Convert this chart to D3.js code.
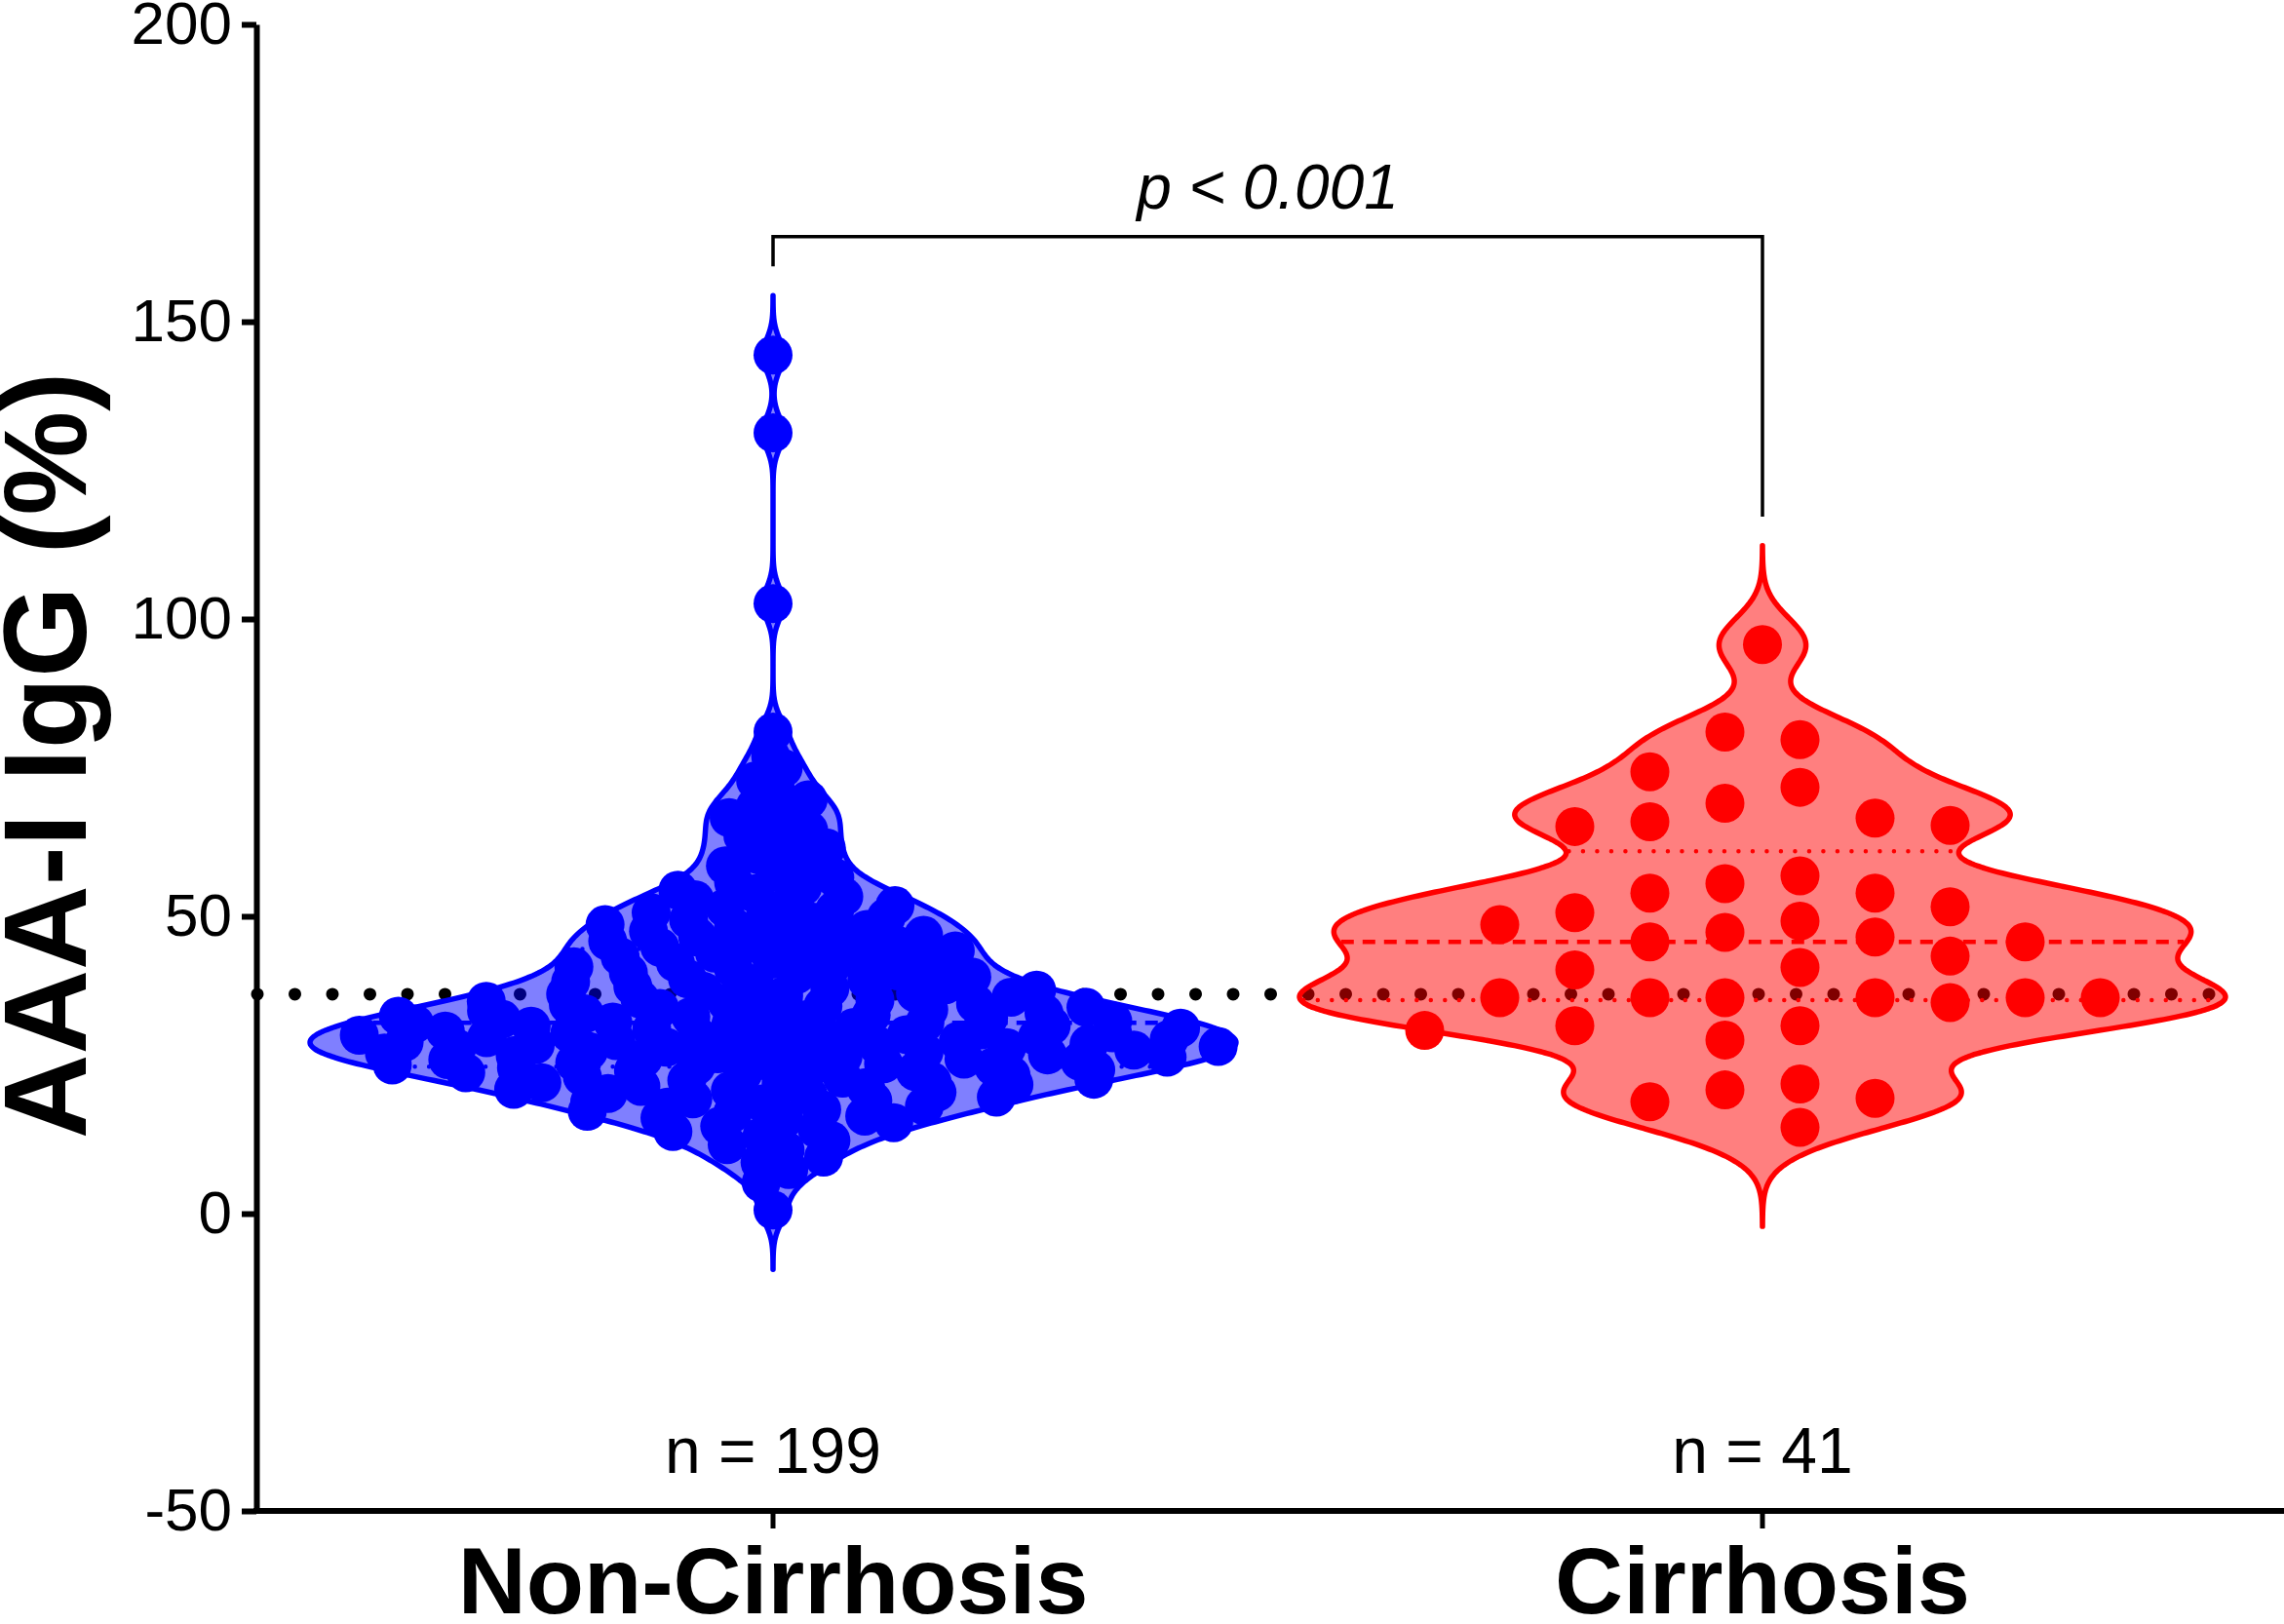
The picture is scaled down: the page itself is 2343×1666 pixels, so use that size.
<!DOCTYPE html>
<html>
<head>
<meta charset="utf-8">
<title>AAA-I IgG violin plot</title>
<script src="https://cdn.jsdelivr.net/npm/d3@7"></script>
<style>
  body { margin: 0; background: #fff; }
  svg { display: block; font-family: 'Liberation Sans', Arial, sans-serif; }
</style>
</head>
<body>
<svg id="chart" width="2343" height="1666"></svg>
<script>
// ---- data ----
const groups = ['Non-Cirrhosis', 'Cirrhosis'];
const groupN = ['n = 199', 'n = 41'];
const yTicks = [-50, 0, 50, 100, 150, 200];
const yLabel = 'AAA-I IgG (%)';
const cutoff = 36.9;
const pLabel = 'p < 0.001';
const bracketTop = 164.3;
const bracketLegs = [159.3, 117.2];
const bandwidth = [2.7, 4.5];

const nonCirrhosis = [
  0.6, 5.2, 7.4, 8.6, 9.5, 10.7, 11.6, 12.3, 13.0, 13.8,
  14.2, 14.7, 15.3, 15.9, 16.1, 16.4, 16.9, 17.2, 17.5, 17.9,
  18.1, 18.5, 18.8, 19.0, 19.3, 19.6, 19.9, 20.2, 20.4, 20.7,
  20.9, 21.2, 21.4, 21.7, 21.9, 22.0, 22.2, 22.4, 22.6, 22.8,
  23.0, 23.3, 23.5, 23.7, 23.9, 24.0, 24.2, 24.3, 24.5, 24.7,
  24.8, 25.0, 25.2, 25.4, 25.6, 25.7, 25.9, 26.0, 26.1, 26.3,
  26.4, 26.6, 26.7, 26.9, 27.0, 27.2, 27.3, 27.5, 27.6, 27.8,
  27.9, 28.0, 28.1, 28.3, 28.4, 28.5, 28.7, 28.8, 29.0, 29.1,
  29.3, 29.4, 29.6, 29.7, 29.9, 30.0, 30.1, 30.3, 30.4, 30.6,
  30.7, 30.9, 31.0, 31.2, 31.3, 31.5, 31.6, 31.8, 31.9, 32.1,
  32.2, 32.4, 32.6, 32.7, 32.9, 33.1, 33.2, 33.4, 33.6, 33.7,
  33.9, 34.1, 34.3, 34.5, 34.7, 34.9, 35.1, 35.3, 35.5, 35.7,
  35.9, 36.1, 36.4, 36.6, 36.9, 37.1, 37.4, 37.6, 37.9, 38.2,
  38.5, 38.7, 39.0, 39.3, 39.5, 39.8, 40.2, 40.5, 40.8, 41.2,
  41.5, 41.8, 42.2, 42.5, 42.8, 43.2, 43.5, 43.8, 44.2, 44.5,
  44.8, 45.2, 45.5, 45.8, 46.2, 46.5, 46.8, 47.2, 47.5, 47.8,
  48.2, 48.6, 49.0, 49.4, 49.8, 50.2, 50.6, 51.0, 51.4, 51.8,
  52.3, 52.8, 53.3, 53.8, 54.4, 55.0, 55.7, 56.5, 57.5, 58.5,
  59.5, 60.4, 61.5, 62.4, 63.5, 64.5, 65.8, 66.6, 67.6, 68.5,
  69.6, 71.0, 72.8, 74.9, 76.9, 81.0, 102.6, 131.3, 144.4
];

const cirrhosis = [
  95.7, 81.0, 79.7, 74.3, 71.7, 69.0, 66.5, 65.9, 65.3, 65.1,
  56.8, 55.5, 53.9, 53.9, 51.6, 50.6, 49.2, 48.6, 47.3, 46.5,
  45.7, 45.7, 43.3, 41.4, 41.0, 36.3, 36.3, 36.3, 36.3, 36.3,
  36.3, 35.5, 31.6, 31.6, 30.8, 29.2, 21.8, 20.8, 19.4, 18.8,
  14.5
];

// ---- setup ----
const series = [nonCirrhosis, cirrhosis];
const colors = ['#0000ff', '#ff0000'];
const dotR = 20;
const maxHalfWidth = 475;

const svg = d3.select('#chart');
const y = d3.scaleLinear().domain([-50, 200]).range([1550, 25]);
const x = d3.scalePoint().domain(groups).range([793, 1808]);

function density (values, h, v) {
  return d3.sum(values, function (d) { return Math.exp(-0.5 * Math.pow((v - d) / h, 2)); });
}

function kde (values, h) {
  const lo = d3.min(values) - 3.7 * h;
  const hi = d3.max(values) + 3.7 * h;
  const grid = d3.range(lo, hi, 0.2).concat([hi]);
  return grid.map(function (v) { return [v, density(values, h, v)]; });
}

// quartiles the way Prism does it: (n + 1) * p
function quartile (values, p) {
  const s = values.slice().sort(d3.ascending);
  const pos = (s.length + 1) * p;
  const lo = Math.floor(pos);
  const f = pos - lo;
  const a = s[lo - 1];
  const b = s[Math.min(lo, s.length - 1)];
  return a + f * (b - a);
}

// many points: scatter across the violin width at each value
// (golden-ratio sequence over the rank, so it is deterministic)
function spreadLayout (values, h, wScale) {
  const sorted = values.slice().sort(d3.ascending);
  return sorted.map(function (v, i) {
    const u = (0.5 + i * 0.6180339887) % 1;
    const W = Math.max(0, wScale(density(values, h, v)) - 15);
    return { v: v, dx: (2 * u - 1) * W };
  });
}

// few points: greedy columns, no overlap inside a column
function columnLayout (values) {
  const colW = 77;
  const gap = 43;
  const sorted = values.slice().sort(d3.descending);
  const placed = [];
  let left = 0;
  let right = 0;
  sorted.forEach(function (v, i) {
    const yv = y(v);
    const isolated = sorted.every(function (o, j) { return j === i || Math.abs(y(o) - yv) >= gap; });
    if (isolated) { placed.push({ v: v, col: 0 }); return; }
    for (let k = 0; k < 20; k++) {
      const order = left <= right ? [-(k + 0.5), k + 0.5] : [k + 0.5, -(k + 0.5)];
      const free = order.find(function (c) {
        return !placed.some(function (p) { return p.col === c && Math.abs(y(p.v) - yv) < gap; });
      });
      if (free !== undefined) {
        placed.push({ v: v, col: free });
        if (free < 0) left++; else right++;
        return;
      }
    }
  });
  return placed.map(function (p) { return { v: p.v, dx: p.col * colW }; });
}

// ---- cutoff dotted line (behind violins) ----
svg.append('line')
  .attr('x1', 264)
  .attr('x2', x(groups[1]) + 496.5)
  .attr('y1', y(cutoff))
  .attr('y2', y(cutoff))
  .attr('stroke', '#000')
  .attr('stroke-width', 13)
  .attr('stroke-linecap', 'round')
  .attr('stroke-dasharray', '0 38.5');

// ---- violins ----
series.forEach(function (values, gi) {
  const h = bandwidth[gi];
  const cx = x(groups[gi]);
  const col = colors[gi];
  const dens = kde(values, h);
  const w = d3.scaleLinear().domain([0, d3.max(dens, function (d) { return d[1]; })]).range([0, maxHalfWidth]);

  const area = d3.area()
    .y(function (d) { return y(d[0]); })
    .x0(function (d) { return cx - w(d[1]); })
    .x1(function (d) { return cx + w(d[1]); })
    .curve(d3.curveBasis);

  const g = svg.append('g');

  g.append('path')
    .datum(dens)
    .attr('d', area)
    .attr('fill', col)
    .attr('fill-opacity', 0.5)
    .attr('stroke', col)
    .attr('stroke-width', 5.5)
    .attr('stroke-linejoin', 'round');

  // median (dashed) and quartiles (dotted)
  [0.25, 0.5, 0.75].forEach(function (p) {
    const q = quartile(values, p);
    const hw = w(density(values, h, q)) - 3;
    g.append('line')
      .attr('x1', cx - hw)
      .attr('x2', cx + hw)
      .attr('y1', y(q))
      .attr('y2', y(q))
      .attr('stroke', col)
      .attr('stroke-width', 4.5)
      .attr('stroke-linecap', p === 0.5 ? 'butt' : 'round')
      .attr('stroke-dasharray', p === 0.5 ? '13 9' : '0 14.5');
  });

  const pts = gi === 0 ? spreadLayout(values, h, w) : columnLayout(values);

  g.selectAll('circle')
    .data(pts)
    .enter()
    .append('circle')
    .attr('cx', function (d) { return cx + d.dx; })
    .attr('cy', function (d) { return y(d.v); })
    .attr('r', dotR)
    .attr('fill', col);
});

// ---- axes ----
const yAxis = svg.append('g')
  .attr('transform', 'translate(263,0)')
  .call(d3.axisLeft(y)
    .tickValues(yTicks)
    .tickFormat(function (d) { return String(d); })
    .tickSize(15)
    .tickPadding(10)
    .tickSizeOuter(0));
yAxis.attr('font-size', 62).attr('font-family', 'Liberation Sans, Arial, sans-serif');
yAxis.select('.domain').attr('stroke-width', 6);
yAxis.selectAll('.tick line').attr('stroke-width', 6);
yAxis.selectAll('.tick text').attr('fill', '#000');

svg.append('line')
  .attr('x1', 260)
  .attr('x2', 2343)
  .attr('y1', y(-50))
  .attr('y2', y(-50))
  .attr('stroke', '#000')
  .attr('stroke-width', 6);

svg.selectAll('.xtick')
  .data(groups)
  .enter()
  .append('line')
  .attr('class', 'xtick')
  .attr('x1', function (d) { return x(d); })
  .attr('x2', function (d) { return x(d); })
  .attr('y1', y(-50))
  .attr('y2', y(-50) + 18)
  .attr('stroke', '#000')
  .attr('stroke-width', 5);

svg.selectAll('.xlabel')
  .data(groups)
  .enter()
  .append('text')
  .attr('class', 'xlabel')
  .attr('x', function (d) { return x(d); })
  .attr('y', 1655)
  .attr('text-anchor', 'middle')
  .attr('font-size', 97)
  .attr('font-weight', 'bold')
  .text(function (d) { return d; });

svg.selectAll('.nlabel')
  .data(groupN)
  .enter()
  .append('text')
  .attr('class', 'nlabel')
  .attr('x', function (d, i) { return x(groups[i]); })
  .attr('y', y(-50) - 39)
  .attr('text-anchor', 'middle')
  .attr('font-size', 66)
  .text(function (d) { return d; });

// y axis label
svg.append('text')
  .attr('transform', 'translate(88,775) rotate(-90)')
  .attr('text-anchor', 'middle')
  .attr('font-size', 120)
  .attr('font-weight', 'bold')
  .text(yLabel);

// ---- significance bracket ----
const bx0 = x(groups[0]);
const bx1 = x(groups[1]);
svg.append('path')
  .attr('d', 'M' + bx0 + ',' + y(bracketLegs[0]) +
    'V' + y(bracketTop) + 'H' + bx1 + 'V' + y(bracketLegs[1]))
  .attr('fill', 'none')
  .attr('stroke', '#000')
  .attr('stroke-width', 3.5);

svg.append('text')
  .attr('x', (bx0 + bx1) / 2)
  .attr('y', y(bracketTop) - 29)
  .attr('text-anchor', 'middle')
  .attr('font-size', 64)
  .attr('font-style', 'italic')
  .text(pLabel);
</script>
</body>
</html>
